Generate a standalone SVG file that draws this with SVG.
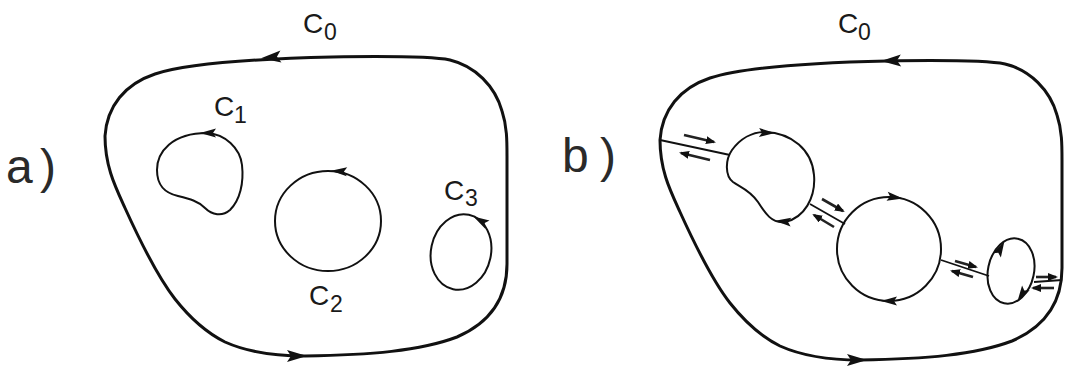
<svg xmlns="http://www.w3.org/2000/svg" xmlns:xlink="http://www.w3.org/1999/xlink" width="1067" height="368" viewBox="0 0 1067 368">
<style>
.bg{fill:#ffffff}
.outer{fill:none;stroke:#111;stroke-width:3;stroke-linejoin:round}
.inner{fill:none;stroke:#111;stroke-width:2}
.link{fill:none;stroke:#111;stroke-width:1.8}
.sarrow{fill:none;stroke:#222;stroke-width:2.6}
.head{fill:#111}
.lbl{font-family:"Liberation Sans",Arial,sans-serif;font-size:28px;fill:#1a1a1a}
.sub{font-size:23px}
.tag{font-family:"Liberation Sans",Arial,sans-serif;font-size:48px;fill:#2a2a2a}
</style>
<defs>
<path id="outerShape" d="M 660 140 C 662 110, 680 88, 710 78 C 740 68, 800 63, 887 61 C 950 60, 990 61, 1005 64 C 1030 70, 1050 90, 1057 115 C 1062 130, 1062 145, 1062 160 L 1062 268 C 1062 305, 1042 328, 1012 341 C 975 355, 925 359, 860 360 C 825 360, 800 355, 780 346 C 760 336, 745 322, 730 303 C 712 280, 695 245, 680 212 C 670 190, 660 170, 660 140 Z"/>
<path id="ahBig" class="head" d="M3,0 L-17,-6 L-13,0 L-17,6 Z"/>
<path id="ahSmall" class="head" d="M3,0 L-13,-4.5 L-10,0 L-13,4.5 Z"/>
<marker id="tip" viewBox="0 0 10 8" refX="8" refY="4" markerWidth="10" markerHeight="8" markerUnits="userSpaceOnUse" orient="auto">
<path d="M0,0 L10,4 L0,8 Z" fill="#111"/>
</marker>
</defs>
<rect class="bg" x="0" y="0" width="1067" height="368"/>

<!-- Panel a -->
<g id="panel-a-label"><text class="tag" x="6" y="183">a</text><text class="tag" x="40" y="183">)</text></g>
<g id="a-C0">
<use xlink:href="#outerShape" class="outer" transform="translate(-555,-4)"/>
<use xlink:href="#ahBig" transform="translate(264,58) rotate(175)"/>
<use xlink:href="#ahBig" transform="translate(304,356) rotate(0)"/>
<text class="lbl" x="303" y="33">C<tspan class="sub" x="324" y="40">0</tspan></text>
</g>
<g id="a-C1">
<path class="inner" d="M 207 133 C 225 134, 240 148, 242 165 C 244 183, 240 200, 230 210 C 222 217, 212 215, 205 208 C 198 201, 190 199, 178 196 C 165 193, 157 186, 157 170 C 157 152, 172 133, 207 133 Z"/>
<use xlink:href="#ahSmall" transform="translate(203,133) rotate(180)"/>
<text class="lbl" x="214" y="116">C<tspan class="sub" x="234" y="123">1</tspan></text>
</g>
<g id="a-C2">
<ellipse class="inner" cx="328" cy="221" rx="53" ry="50"/>
<use xlink:href="#ahSmall" transform="translate(334,171) rotate(183)"/>
<text class="lbl" x="309" y="305">C<tspan class="sub" x="330" y="312">2</tspan></text>
</g>
<g id="a-C3">
<ellipse class="inner" cx="461" cy="252" rx="30" ry="38" transform="rotate(12 461 252)"/>
<use xlink:href="#ahSmall" transform="translate(476,218) rotate(-150)"/>
<text class="lbl" x="444" y="200">C<tspan class="sub" x="465" y="206">3</tspan></text>
</g>

<!-- Panel b -->
<g id="panel-b-label"><text class="tag" x="562" y="172">b</text><text class="tag" x="600" y="172">)</text></g>
<g id="b-C0">
<use xlink:href="#outerShape" class="outer"/>
<use xlink:href="#ahBig" transform="translate(884,61) rotate(178)"/>
<use xlink:href="#ahBig" transform="translate(864,360) rotate(0)"/>
<text class="lbl" x="838" y="33">C<tspan class="sub" x="858" y="40">0</tspan></text>
</g>
<g id="b-C1">
<path class="inner" d="M 765 132 C 792 133, 812 150, 814 175 C 816 198, 804 218, 785 222 C 772 224, 765 213, 758 202 C 750 190, 740 187, 733 182 C 725 176, 725 160, 732 150 C 740 139, 752 132, 765 132 Z"/>
<use xlink:href="#ahSmall" transform="translate(772,133) rotate(2)"/>
<use xlink:href="#ahSmall" transform="translate(778,221) rotate(185)"/>
</g>
<g id="b-C2">
<circle class="inner" cx="889" cy="249" r="52"/>
<use xlink:href="#ahSmall" transform="translate(900,198) rotate(8)"/>
<use xlink:href="#ahSmall" transform="translate(884,301) rotate(180)"/>
</g>
<g id="b-C3">
<ellipse class="inner" cx="1011" cy="271" rx="23" ry="33" transform="rotate(12 1011 271)"/>
<use xlink:href="#ahSmall" transform="translate(1003,244) rotate(-62)"/>
<use xlink:href="#ahSmall" transform="translate(1019,299) rotate(122)"/>
</g>

<g id="connectors">
<line class="link" x1="660" y1="140" x2="730" y2="155"/>
<line class="sarrow" x1="684" y1="135" x2="714" y2="142" marker-end="url(#tip)"/>
<line class="sarrow" x1="710" y1="160" x2="681" y2="153" marker-end="url(#tip)"/>
<line class="link" x1="810" y1="204" x2="845" y2="224"/>
<line class="sarrow" x1="822" y1="199" x2="843" y2="211" marker-end="url(#tip)"/>
<line class="sarrow" x1="834" y1="227" x2="814" y2="215" marker-end="url(#tip)"/>
<line class="link" x1="941" y1="260" x2="989" y2="276"/>
<line class="sarrow" x1="955" y1="261" x2="976" y2="267" marker-end="url(#tip)"/>
<line class="sarrow" x1="973" y1="277" x2="952" y2="271" marker-end="url(#tip)"/>
<line class="link" x1="1034" y1="282" x2="1062" y2="280"/>
<line class="sarrow" x1="1036" y1="277" x2="1056" y2="277" marker-end="url(#tip)"/>
<line class="sarrow" x1="1054" y1="288" x2="1033" y2="288" marker-end="url(#tip)"/>
</g>
</svg>
